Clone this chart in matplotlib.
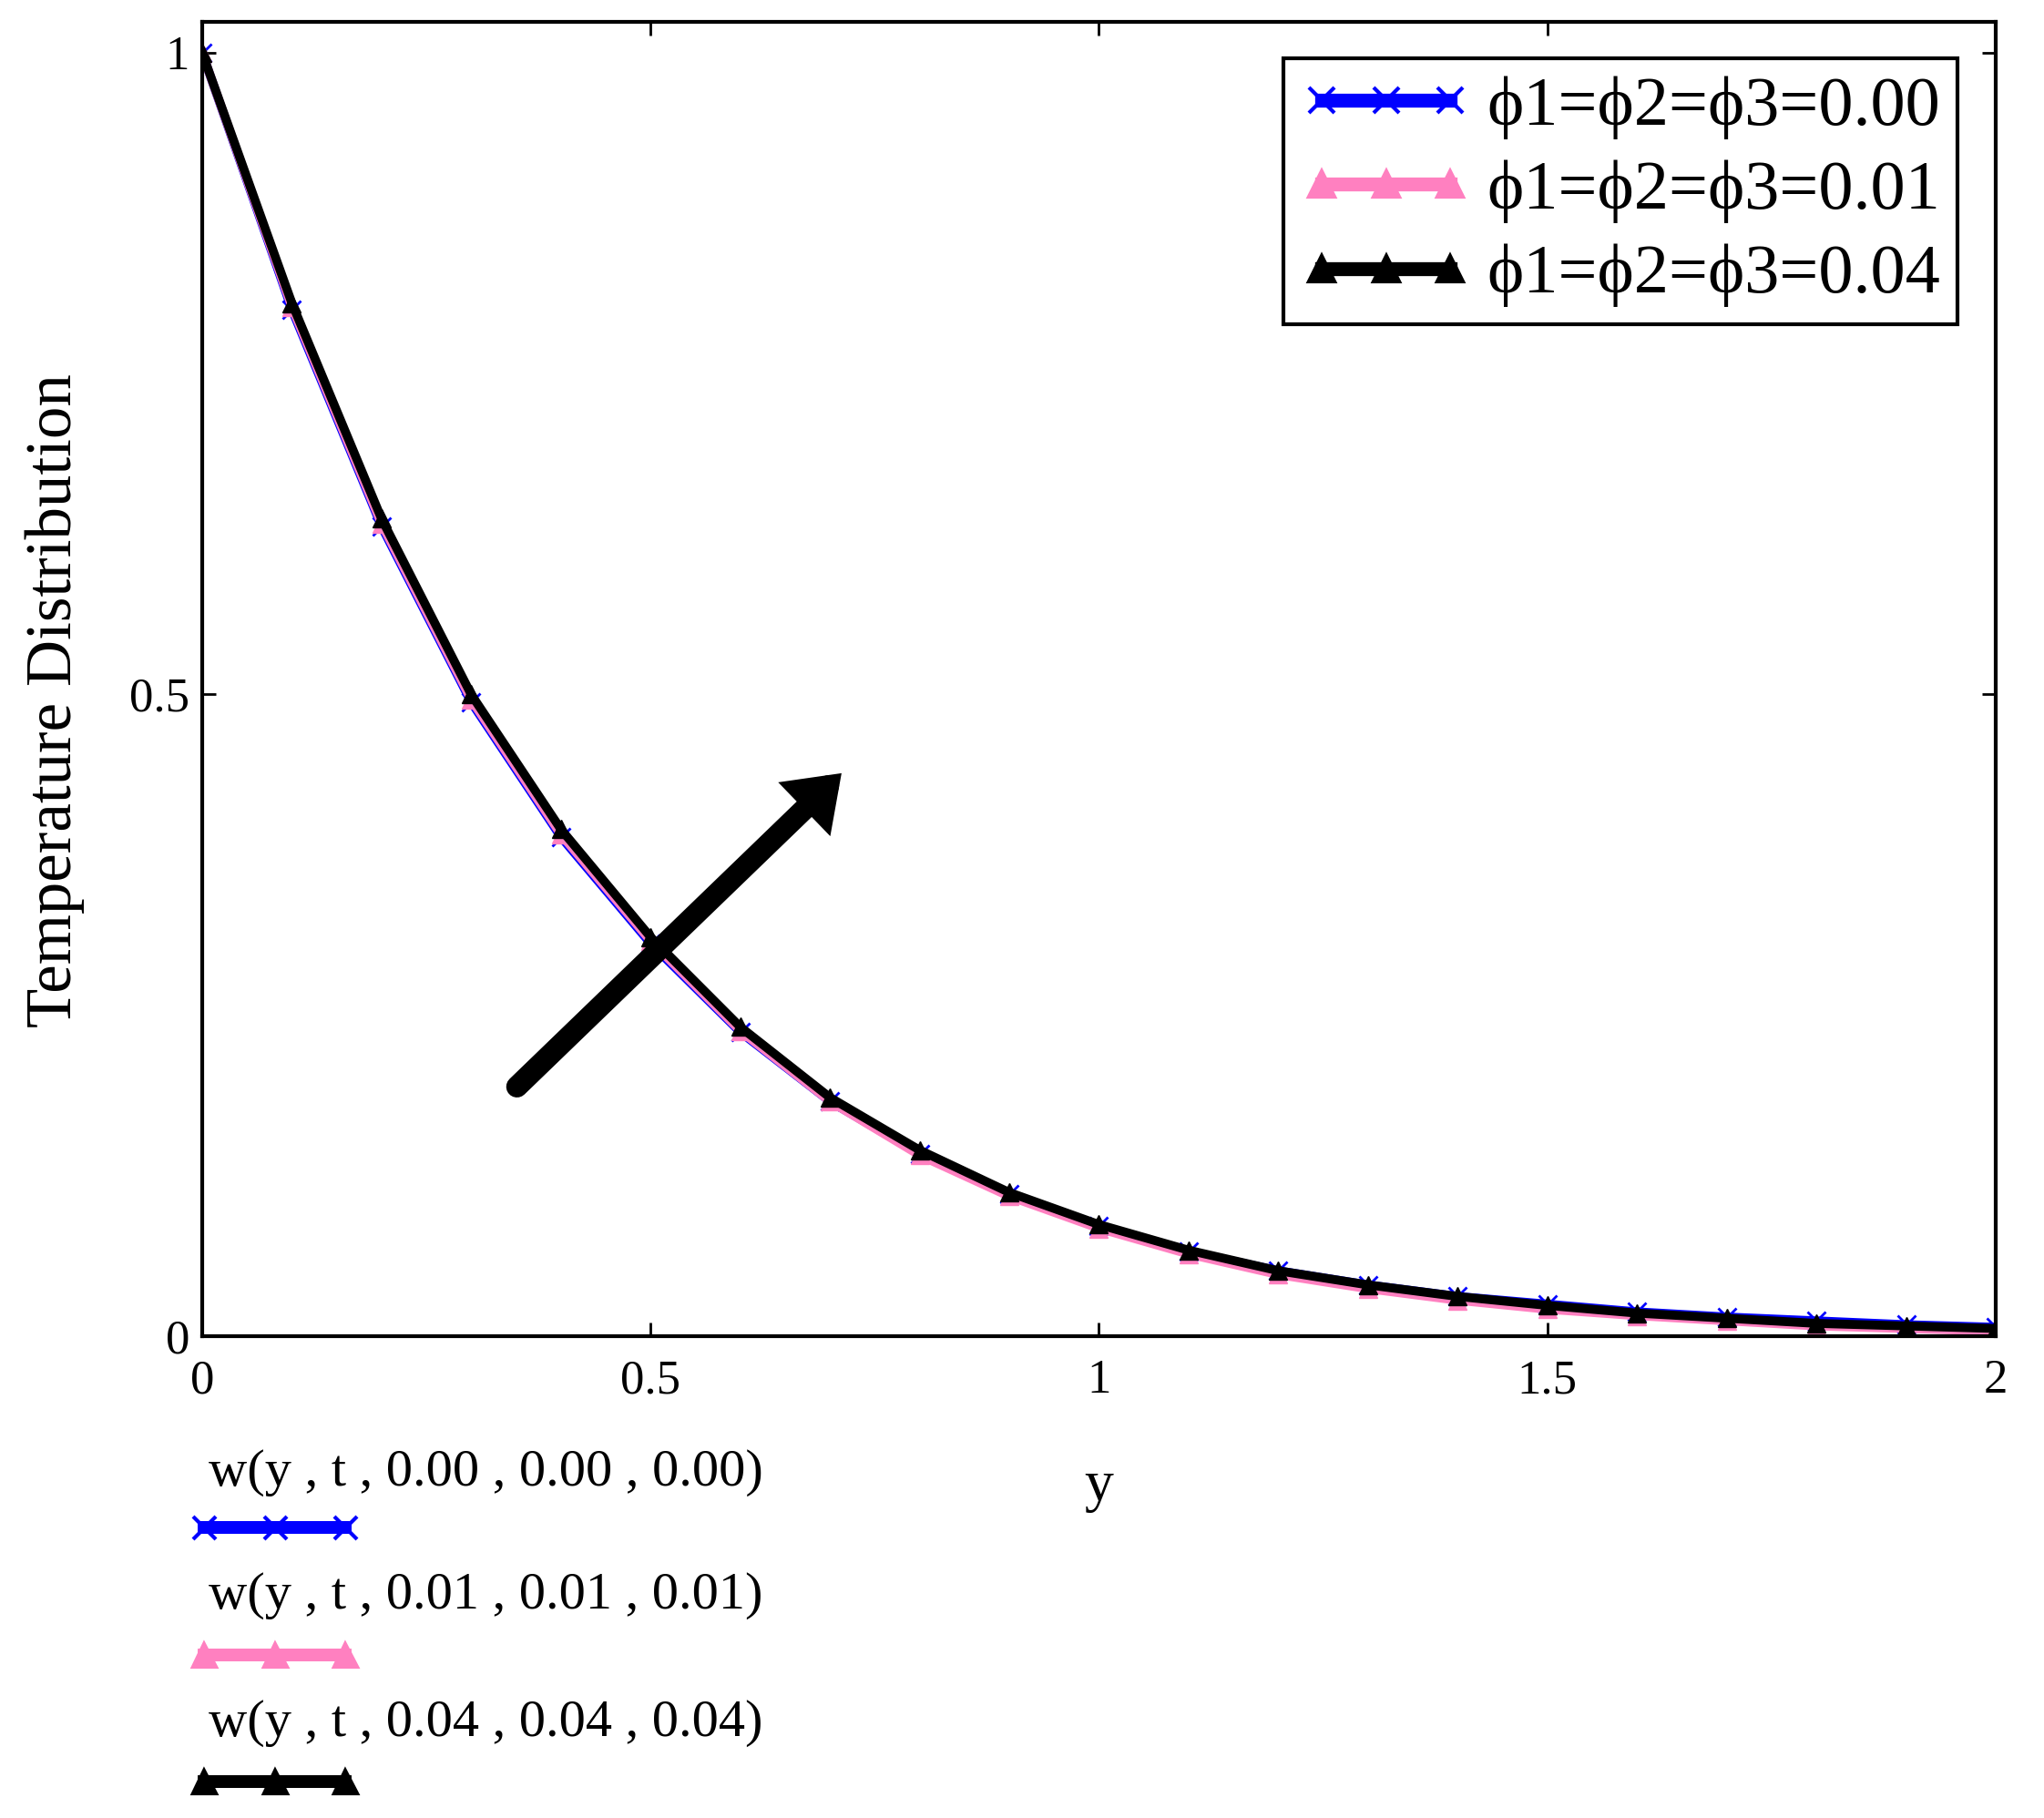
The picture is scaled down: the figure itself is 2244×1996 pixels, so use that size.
import matplotlib

matplotlib.use("Agg")
import matplotlib.pyplot as plt
from matplotlib.lines import Line2D

plt.rcParams["font.family"] = ["Liberation Serif", "DejaVu Serif"]

# values, y = 0, 0.1, ..., 2.0
y_pos = [0.0, 0.1, 0.2, 0.3, 0.4, 0.5, 0.6, 0.7, 0.8, 0.9, 1.0,
         1.1, 1.2, 1.3, 1.4, 1.5, 1.6, 1.7, 1.8, 1.9, 2.0]
w_000 = [1.000, 0.800, 0.631, 0.494, 0.389, 0.306, 0.237, 0.183, 0.142, 0.111, 0.086,
         0.066, 0.051, 0.040, 0.031, 0.025, 0.019, 0.015, 0.012, 0.009, 0.007]
w_001 = [1.000, 0.802, 0.633, 0.496, 0.391, 0.308, 0.238, 0.183, 0.141, 0.109, 0.084,
         0.064, 0.048, 0.037, 0.028, 0.021, 0.016, 0.012, 0.008, 0.006, 0.004]
w_004 = [1.000, 0.805, 0.637, 0.500, 0.395, 0.311, 0.241, 0.186, 0.145, 0.112, 0.087,
         0.067, 0.051, 0.040, 0.031, 0.024, 0.018, 0.014, 0.010, 0.008, 0.006]

series_labels = ["\u03d51=\u03d52=\u03d53=0.00",
                 "\u03d51=\u03d52=\u03d53=0.01",
                 "\u03d51=\u03d52=\u03d53=0.04"]
call_labels = ["w(y , t , 0.00 , 0.00 , 0.00)",
               "w(y , t , 0.01 , 0.01 , 0.01)",
               "w(y , t , 0.04 , 0.04 , 0.04)"]
colors = ["#0000ff", "#ff80c0", "#000000"]
markers = ["x", "^", "^"]

x_ticks = [0, 0.5, 1, 1.5, 2]
x_tick_labels = ["0", "0.5", "1", "1.5", "2"]
y_ticks = [0, 0.5, 1]
y_tick_labels = ["0", "0.5", "1"]

# arrow drawn across the curves (data coords)
arrow_tail = (0.349, 0.193)
arrow_head = (0.715, 0.44)

fig = plt.figure(figsize=(22.44, 19.96), dpi=100)
ax = fig.add_axes([0.0989, 0.265, 0.8775, 0.723])

for vals, c, m in zip([w_000, w_001, w_004], colors, markers):
    ax.plot(y_pos, vals, color=c, lw=7, marker=m, ms=14, mew=2 if m == "x" else 1,
            mec=c, mfc=c)

ax.set_xlim(0, 2)
ax.set_ylim(0, 1.024)
ax.set_xticks(x_ticks)
ax.set_xticklabels(x_tick_labels)
ax.set_yticks(y_ticks)
ax.set_yticklabels(y_tick_labels)
ax.tick_params(direction="in", top=True, right=True, length=11, width=2,
               labelsize=38, colors="black")
ax.tick_params(axis="x", pad=18)
ax.tick_params(axis="y", pad=10)
for sp in ax.spines.values():
    sp.set_linewidth(3)

ax.text(0.5, -0.114, "y", transform=ax.transAxes, ha="center", va="center", fontsize=46)
ax.text(-0.082, 0.484, "Temperature Distribution", transform=ax.transAxes,
        rotation=90, ha="center", va="center", fontsize=51)

ax.annotate("", xy=arrow_head, xytext=arrow_tail,
            arrowprops=dict(arrowstyle="-|>,head_length=1.8,head_width=1.3",
                            lw=17, color="black", capstyle="round",
                            joinstyle="miter"))

handles = [Line2D([], [], color=c, lw=11, marker=m, ms=20, mew=3, mec=c, mfc=c)
           for c, m in zip(colors, markers)]
leg = ax.legend(handles, series_labels, loc="upper right",
                bbox_to_anchor=(0.9787, 0.9723), borderaxespad=0,
                fontsize=55, numpoints=3, handlelength=2.45, handletextpad=0.22,
                labelspacing=0.3, borderpad=0.25, fancybox=False, framealpha=1,
                edgecolor="black")
leg.get_frame().set_linewidth(3)

# lower-left trace labels with their line samples
text_y = [0.19, 0.122, 0.052]
sample_y = [0.16, 0.0895, 0.02]
for lab, c, m, ty, sy in zip(call_labels, colors, markers, text_y, sample_y):
    fig.text(0.102, ty, lab, ha="left", va="center", fontsize=42)
    fig.add_artist(Line2D([0.1, 0.169, 0.1, 0.1345, 0.169], [sy] * 5, color=c, lw=10,
                          marker=m, ms=18, mew=3, mec=c, mfc=c,
                          markevery=[2, 3, 4], transform=fig.transFigure))

fig.savefig("out.png", dpi=100)
